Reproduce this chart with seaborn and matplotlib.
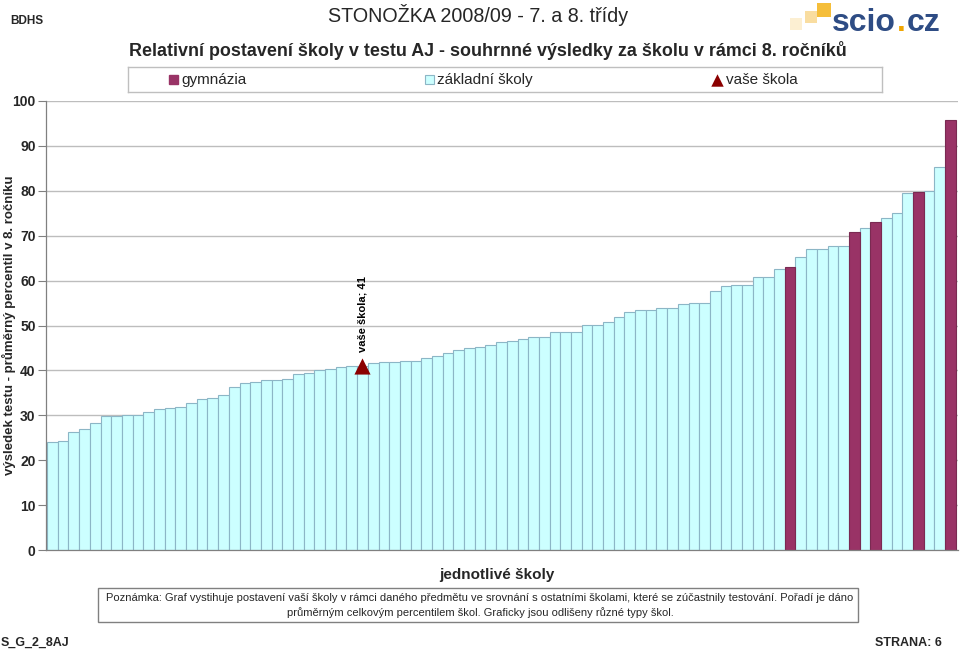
import numpy as np
import pandas as pd
import matplotlib
matplotlib.use("Agg")
import matplotlib.pyplot as plt
from matplotlib.patches import Rectangle
import seaborn as sns

# ---------------- data ----------------
values = [24.0, 24.2, 26.2, 26.9, 28.3, 29.8, 29.8, 30.0, 30.1, 30.7,
          31.5, 31.6, 31.8, 32.8, 33.6, 33.9, 34.5, 36.3, 37.2, 37.5,
          37.8, 37.8, 38.1, 39.3, 39.5, 40.0, 40.3, 40.7, 40.9, 41.0,
          41.6, 41.9, 41.9, 42.0, 42.2, 42.8, 43.2, 43.8, 44.6, 45.1,
          45.3, 45.7, 46.4, 46.5, 47.1, 47.4, 47.4, 48.6, 48.6, 48.6,
          50.2, 50.2, 50.7, 52.0, 53.1, 53.4, 53.5, 54.0, 54.0, 54.8,
          55.0, 55.1, 57.6, 58.7, 59.0, 59.1, 60.7, 60.9, 62.5, 63.1,
          65.3, 67.0, 67.0, 67.6, 67.8, 70.9, 71.7, 73.1, 74.0, 75.0,
          79.4, 79.8, 80.0, 85.4, 95.7]
gymnazia_idx = [69, 75, 77, 81, 84]
types = ["gymnázia" if i in gymnazia_idx else "základní školy" for i in range(len(values))]
our_index = 29
our_value = 41
y_ticks = [0, 10, 20, 30, 40, 50, 60, 70, 80, 90, 100]

title = "STONOŽKA 2008/09 - 7. a 8. třídy"
subtitle = "Relativní postavení školy v testu AJ - souhrnné výsledky za školu v rámci 8. ročníků"
y_label = "výsledek testu - průměrný percentil v 8. ročníku"
x_label = "jednotlivé školy"
note_lines = ["Poznámka: Graf vystihuje postavení vaší školy v rámci daného předmětu ve srovnání s ostatními školami, které se zúčastnily testování. Pořadí je dáno",
              "průměrným celkovým percentilem škol. Graficky jsou odlišeny různé typy škol."]

# ---------------- style ----------------
sns.set_theme(style="white")
plt.rcParams["font.family"] = ["Liberation Sans", "DejaVu Sans"]

DARK = "#993366"
LIGHT = "#CCFFFF"
EDGE = "#8CB6C6"
TRI = "#8B0000"

W, H = 960, 651
fig = plt.figure(figsize=(W / 100, H / 100), dpi=100)
fig.patch.set_facecolor("white")

def fx(px):
    return px / W

def fy(py):
    return 1 - py / H

ax = fig.add_axes([fx(46), fy(550), fx(958) - fx(46), fy(101) - fy(550)])

df = pd.DataFrame({"school": list(range(len(values))), "value": values, "type": types})
sns.barplot(data=df, x="school", y="value", hue="type",
            palette={"gymnázia": DARK, "základní školy": LIGHT},
            dodge=False, width=1.0, saturation=1, edgecolor=EDGE, linewidth=0.8,
            legend=False, ax=ax, zorder=2)
for p in ax.patches:
    fc = p.get_facecolor()
    if fc[0] < 0.7:
        p.set_edgecolor("#7A2A52")

ax.scatter([our_index], [our_value], marker="^", s=135, color=TRI, zorder=5, linewidths=0)
ax.annotate(f"vaše škola; {our_value}", xy=(our_index, our_value), xytext=(0, 10),
            textcoords="offset points", rotation=90, ha="center", va="bottom",
            fontsize=8, fontweight="bold", color="black")

ax.set_xlim(-0.6, len(values) - 0.3)
ax.set_ylim(0, 100)
ax.set_yticks(y_ticks)
ax.set_yticklabels([str(t) for t in y_ticks], fontsize=10, fontweight="bold")
ax.set_xticks([])
ax.set_xlabel("")
ax.set_ylabel("")
ax.yaxis.grid(True, color="#BDBDBD", linewidth=1.0, zorder=0)
ax.set_axisbelow(True)
ax.tick_params(axis="y", left=True, length=6, width=0.8, color="#808080", pad=1.5)
for s in ["top", "right"]:
    ax.spines[s].set_visible(False)
for s in ["left", "bottom"]:
    ax.spines[s].set_color("#808080")
    ax.spines[s].set_linewidth(0.9)

# ---------------- texts ----------------
fig.text(fx(10), fy(21), "BDHS", fontsize=8.5, fontweight="bold", ha="left", va="center")
fig.text(fx(478), fy(15), title, fontsize=14.2, ha="center", va="center")
fig.text(fx(488), fy(50), subtitle, fontsize=12.9, fontweight="bold", ha="center", va="center")
fig.text(fx(9), fy(325), y_label, fontsize=9.5, fontweight="bold", rotation=90, ha="center", va="center")
fig.text(fx(497), fy(575), x_label, fontsize=11, fontweight="bold", ha="center", va="center")
fig.text(fx(1), fy(643), "S_G_2_8AJ", fontsize=9, fontweight="bold", ha="left", va="center")
fig.text(fx(942), fy(643), "STRANA: 6", fontsize=9, fontweight="bold", ha="right", va="center")

# note box
fig.add_artist(Rectangle((fx(98), fy(622)), fx(858) - fx(98), fy(588) - fy(622),
                         transform=fig.transFigure, fill=False, edgecolor="#808080", linewidth=1))
fig.text(fx(480), fy(598), note_lines[0], fontsize=8.05, ha="center", va="center")
fig.text(fx(480), fy(613), note_lines[1], fontsize=8.05, ha="center", va="center")

# legend box
lax = fig.add_axes([fx(128), fy(92), fx(882) - fx(128), fy(67) - fy(92)])
lax.set_xlim(128, 882)
lax.set_ylim(92, 67)
lax.set_xticks([])
lax.set_yticks([])
lax.set_facecolor("white")
for s in lax.spines.values():
    s.set_color("#BFBFBF")
    s.set_linewidth(1)
lax.add_patch(Rectangle((169, 75), 9, 9, facecolor=DARK, edgecolor=DARK))
lax.text(181, 80, "gymnázia", fontsize=11, ha="left", va="center")
lax.add_patch(Rectangle((425, 75), 9, 9, facecolor=LIGHT, edgecolor=EDGE, linewidth=0.8))
lax.text(437, 80, "základní školy", fontsize=11, ha="left", va="center")
lax.scatter([717], [79.5], marker="^", s=80, color=TRI, linewidths=0)
lax.text(726, 80, "vaše škola", fontsize=11, ha="left", va="center")

# logo
for (x0, y0, sz, col) in [(790, 18, 12, "#FCEFD2"), (805, 11, 12, "#F9DDA0"), (817, 3, 14, "#F5BE3A")]:
    fig.add_artist(Rectangle((fx(x0), fy(y0 + sz)), fx(sz), sz / H, transform=fig.transFigure,
                             facecolor=col, edgecolor="none"))
renderer = fig.canvas.get_renderer()
xpos = 832
for part, col in [("scio", "#2E4C84"), (".", "#F0A500"), ("cz", "#2E4C84")]:
    t = fig.text(fx(xpos), fy(31), part, fontsize=23, fontweight="bold", color=col,
                 ha="left", va="baseline")
    bb = t.get_window_extent(renderer=renderer)
    xpos += bb.width + 1

fig.savefig("out.png", dpi=100)
